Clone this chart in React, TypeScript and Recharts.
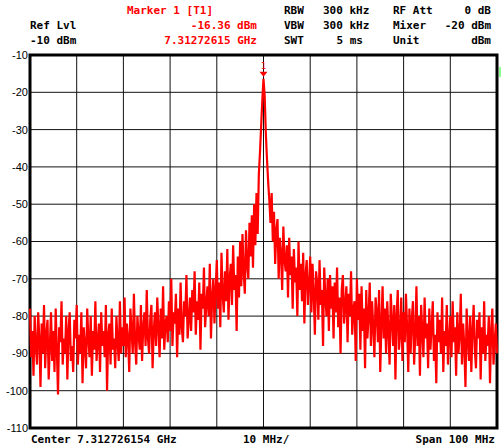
import { CartesianGrid, Line, LineChart, ReferenceArea, ReferenceDot, XAxis, YAxis } from 'recharts'

// trace samples, 0.25 MHz apart, span -50..+50 MHz around the centre
const levels = [
  -78, -91, -84, -96, -80, -88, -93, -79, -86, -99, -82, -90, -77, -94, -85, -81, -97, -88, -79, -92,
  -84, -95, -78, -89, -101, -83, -87, -76, -93, -86, -90, -80, -97, -84, -79, -92, -88, -95, -81, -86,
  -77, -93, -85, -90, -79, -98, -83, -88, -94, -78, -86, -91, -80, -96, -84, -89, -76, -92, -87, -82,
  -95, -79, -88, -84, -91, -77, -100, -85, -82, -93, -78, -89, -86, -94, -80, -87, -92, -76, -90, -83,
  -88, -75, -91, -82, -86, -95, -78, -84, -90, -74, -87, -93, -80, -85, -89, -77, -92, -83, -79, -88,
  -73, -86, -90, -81, -77, -94, -84, -79, -88, -75, -83, -91, -78, -86, -72, -89, -82, -80, -87, -76,
  -84, -70, -88, -79, -82, -74, -91, -78, -85, -71, -83, -87, -76, -80, -69, -86, -81, -75, -84, -73,
  -79, -68, -85, -76, -81, -71, -89, -74, -78, -67, -83, -77, -72, -80, -66, -86, -75, -70, -82, -73,
  -65, -78, -71, -83, -63, -74, -79, -68, -76, -62, -81, -70, -66, -77, -61, -73, -69, -84, -64, -75,
  -60, -72, -58, -68, -74, -57, -66, -70, -55, -64, -53, -67, -50, -61, -47, -58, -42, -36, -29, -22,
  -16.36,
  -21, -31, -38, -44, -49, -55, -47, -60, -52, -66, -57, -54, -70, -59, -63, -73, -56, -65, -68, -61,
  -75, -59, -69, -64, -78, -62, -71, -67, -80, -60, -73, -66, -76, -63, -82, -69, -65, -77, -72, -64,
  -79, -66, -74, -85, -68, -71, -81, -65, -77, -73, -88, -67, -75, -80, -70, -84, -69, -78, -72, -86,
  -71, -79, -67, -83, -75, -90, -73, -69, -82, -77, -72, -87, -74, -80, -68, -85, -78, -76, -92, -70,
  -81, -74, -89, -72, -84, -78, -94, -73, -86, -80, -71, -88, -76, -83, -91, -75, -79, -87, -73, -95,
  -82, -72, -86, -78, -90, -76, -84, -93, -74, -81, -88, -77, -97, -80, -73, -89, -85, -75, -92, -79,
  -87, -74, -83, -95, -78, -90, -81, -76, -93, -85, -72, -88, -80, -96, -77, -84, -91, -75, -86, -82,
  -94, -78, -89, -83, -76, -92, -85, -98, -79, -87, -81, -90, -75, -95, -84, -88, -77, -93, -86, -80,
  -91, -76, -87, -83, -96, -79, -90, -85, -74, -93, -82, -88, -99, -78, -86, -92, -80, -95, -84, -77,
  -89, -94, -81, -86, -79, -97, -83, -90, -76, -92, -85, -88, -80, -98, -84, -78, -93, -87, -82, -90
]

const startMHz = -50
const stepMHz = 0.25
const freqTicks = [-50, -40, -30, -20, -10, 0, 10, 20, 30, 40, 50]
const levelTicks = [-110, -100, -90, -80, -70, -60, -50, -40, -30, -20, -10]

const markerFreq = 0
const markerLevel = -16.36

const data = levels.map((level, i) => ({ f: startMHz + i * stepMHz, level }))

const RED = '#ff0000'
const MONO = '"DejaVu Sans Mono", monospace'

const MarkerShape = (props: any) => {
  const { cx, cy } = props
  return (
    <g>
      <polygon points={`${cx - 4},${cy - 7} ${cx + 4},${cy - 7} ${cx},${cy - 2}`} fill={RED} />
      <text x={cx} y={cy - 10} textAnchor="middle" fontSize={9} fontFamily={MONO} fill={RED}>
        1
      </text>
    </g>
  )
}

type Txt = { x: number; y: number; t: string; end?: boolean; red?: boolean }

const texts: Txt[] = [
  { x: 127, y: 11, t: 'Marker 1 [T1]', red: true },
  { x: 284, y: 11, t: 'RBW' },
  { x: 323, y: 11, t: '300 kHz' },
  { x: 393, y: 11, t: 'RF Att' },
  { x: 491, y: 11, t: '0 dB', end: true },
  { x: 30, y: 26, t: 'Ref Lvl' },
  { x: 257, y: 26, t: '-16.36 dBm', end: true, red: true },
  { x: 284, y: 26, t: 'VBW' },
  { x: 323, y: 26, t: '300 kHz' },
  { x: 393, y: 26, t: 'Mixer' },
  { x: 491, y: 26, t: '-20 dBm', end: true },
  { x: 30, y: 41, t: '-10 dBm' },
  { x: 257, y: 41, t: '7.31272615 GHz', end: true, red: true },
  { x: 284, y: 41, t: 'SWT' },
  { x: 363, y: 41, t: '5 ms', end: true },
  { x: 393, y: 41, t: 'Unit' },
  { x: 491, y: 41, t: 'dBm', end: true },
  { x: 31, y: 440, t: 'Center 7.312726154 GHz' },
  { x: 243, y: 440, t: '10 MHz/' },
  { x: 495, y: 440, t: 'Span 100 MHz', end: true }
]

export default function App() {
  return (
    <div style={{ position: 'absolute', left: 0, top: 0, width: 501, height: 448, background: '#fff' }}>
      <LineChart width={501} height={448} data={data} margin={{ top: 55, right: 4, bottom: 20, left: 0 }}>
        <CartesianGrid stroke="#111" strokeWidth={1} />
        <XAxis dataKey="f" type="number" domain={[-50, 50]} ticks={freqTicks} hide />
        <YAxis
          type="number"
          domain={[-110, -10]}
          ticks={levelTicks}
          width={30}
          axisLine={false}
          tickLine={false}
          tickSize={0}
          tickMargin={2}
          tick={{ fill: '#000', fontSize: 11, fontFamily: '"Liberation Sans", Arial, sans-serif' }}
        />
        <Line
          type="linear"
          dataKey="level"
          stroke={RED}
          strokeWidth={2.2}
          dot={false}
          isAnimationActive={false}
        />
        <ReferenceArea x1={-50} x2={50} y1={-110} y2={-10} fill="none" stroke="#000" strokeWidth={3} />
        <ReferenceDot x={markerFreq} y={markerLevel} r={4} shape={MarkerShape} />
      </LineChart>
      <svg width={501} height={448} style={{ position: 'absolute', left: 0, top: 0, pointerEvents: 'none' }}>
        {texts.map((d, i) => (
          <text
            key={i}
            x={d.x}
            y={d.y}
            dominantBaseline="middle"
            textAnchor={d.end ? 'end' : 'start'}
            fontSize={11}
            fontWeight="bold"
            fontFamily={MONO}
            fill={d.red ? RED : '#000'}
            style={{ whiteSpace: 'pre' }}
          >
            {d.t}
          </text>
        ))}
        <line x1={500} y1={67} x2={500} y2={77} stroke="#66ff66" strokeWidth={1.5} />
      </svg>
    </div>
  )
}
